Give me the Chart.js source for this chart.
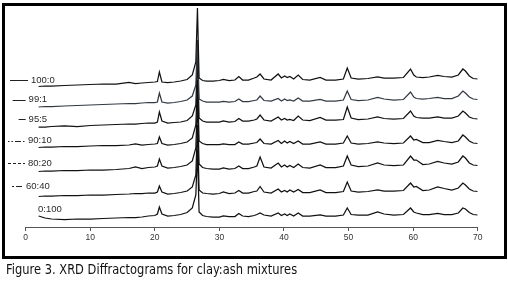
<!DOCTYPE html>
<html>
<head>
<meta charset="utf-8">
<script src="https://cdn.jsdelivr.net/npm/chart.js@4/dist/chart.umd.min.js"></script>
<style>
  html, body { margin: 0; padding: 0; background: #fff; }
  body { width: 508px; height: 282px; position: relative; overflow: hidden; }
  #chart { position: absolute; left: 0; top: 0; }
  #frame {
    position: absolute; left: 2px; top: 3px; width: 505px; height: 256px;
    border: 3px solid #000; box-sizing: border-box; pointer-events: none;
  }
  #caption {
    position: absolute; left: 6px; top: 262px; white-space: nowrap;
    font: 14px "DejaVu Sans", Arial, sans-serif; line-height: 15px; color: #111;
    transform-origin: 0 0;
  }
</style>
</head>
<body>
<canvas id="chart" width="508" height="256"></canvas>
<div id="frame"></div>
<div id="caption">Figure 3. XRD Diffractograms for clay:ash mixtures</div>
<script>
// ─── Data (2θ in degrees, intensity in a.u. with the stacking offset included) ───
const twoTheta = [2, 3, 4, 6, 8, 10, 12, 14, 16, 17, 18, 19, 20, 20.4, 20.7, 21.1, 22, 23, 24, 25,
  25.8, 26.35, 26.6, 26.85, 27.4, 28, 29, 30, 30.6, 31.5, 32.4, 33.0, 33.6, 34.5, 35.4, 35.8, 36.3, 36.9, 38, 39.1,
  39.6, 40.1, 40.5, 40.9, 41.5, 42.2, 42.9, 44, 45.6, 46.5, 48, 49.2, 49.8, 50.4, 51.5, 53, 54.5, 55.5, 57, 58.5,
  59.6, 60.1, 60.5, 61.5, 62.5, 63.8, 64.8, 66, 67.0, 67.7, 68.1, 68.7, 69.3, 70];

const mix100_0 = [140.5, 141, 141, 141.5, 142, 142.5, 143, 143, 144.5, 143.5, 144, 144.5, 145, 145.5, 155, 145, 144.5, 145, 146, 147.5,
  152, 165, 219, 149, 146.5, 146, 146, 146.5, 147.5, 146.5, 147, 150.5, 147, 147, 149, 150, 153, 148, 147, 153,
  149, 151, 149.5, 150.5, 148, 152, 147.5, 147, 149.5, 147, 147, 148, 159, 149, 148, 148.5, 150, 149, 149, 149.5,
  158, 152, 150, 149.5, 150, 151.5, 150.5, 150, 152, 158, 156, 151, 148.5, 148];
const mix99_1 = [120, 120.5, 120.5, 121, 121.5, 122, 122.5, 123, 123.5, 123.5, 124, 124.5, 124.5, 125, 134, 125, 124, 124.5, 125.5, 127,
  131, 142, 187, 128, 126, 125, 125, 125, 125.5, 125, 125.5, 128, 125.5, 125.5, 126.5, 127, 131, 126.5, 126, 128.5,
  126, 128, 126.5, 127, 126, 129, 126, 126, 127.5, 126, 126, 127, 136, 127.5, 126.5, 127, 129.5, 128, 127, 127.5,
  135, 130, 128.5, 128, 128.5, 129.5, 128.5, 128.5, 131, 136, 134, 130, 128, 127.5];
const mix95_5 = [100, 100, 100.5, 101, 100.5, 101.5, 102, 102.5, 103, 103, 103.5, 104, 104, 105, 115, 106, 104, 104.5, 105, 106.5,
  111, 122, 172, 109, 106, 105, 105, 105, 106, 105, 105.5, 108.5, 106, 106, 107, 108, 112, 107, 106, 110,
  107, 108.5, 107, 107.5, 106.5, 111, 107, 106.5, 109.5, 107, 107, 107.5, 120, 109, 107.5, 108, 110, 108.5, 108, 108.5,
  116, 111, 109.5, 109, 109, 110, 109, 109, 111, 116, 114, 110, 108.5, 108];
const mix90_10 = [79.5, 80, 80, 80.5, 80.5, 81, 81.5, 81.5, 82, 83, 82, 82.5, 83, 83.5, 90, 83.5, 82, 82.5, 83.5, 85,
  89, 102, 147, 86, 83.5, 82.5, 82.5, 82.5, 83, 82.5, 82.5, 85, 83, 83, 84, 84.5, 88, 83.5, 83, 86.5,
  83.5, 86, 84, 85.5, 83.5, 86, 83, 83, 85, 83, 83, 84, 91, 84, 83, 83.5, 85, 84, 83.5, 84,
  91, 87, 87.5, 84.5, 84.5, 86.5, 85.5, 84.5, 86, 92, 90, 86, 84, 83.5];
const mix80_20 = [55.5, 56, 56, 56.5, 56.5, 57, 57, 57.5, 58.5, 60, 58.5, 59.5, 60, 61, 68, 61, 59, 59.5, 60.5, 62,
  66, 79, 127, 63, 59.5, 58.5, 58, 58, 59, 58, 58.5, 61, 58.5, 58.5, 60, 61, 70, 60, 59, 64,
  60, 62, 60, 61.5, 59.5, 63, 59.5, 59, 62, 59.5, 59.5, 61, 71, 62, 60.5, 61, 64, 62, 61.5, 62,
  71, 67, 67, 62.5, 63, 65.5, 64, 63, 65, 71, 69, 64, 62, 61.5];
const mix60_40 = [30.5, 31, 31, 31.5, 31.5, 32, 32, 32.5, 33, 33.5, 33.5, 34, 34, 35, 41, 35, 33, 33.5, 34.5, 36,
  40, 52, 102, 37, 34, 33.5, 33, 33.5, 35, 33.5, 34, 36.5, 34, 34, 35.5, 36, 40.5, 35, 34, 38,
  35, 36.5, 35, 37, 35, 37.5, 34.5, 34.5, 37, 34.5, 34.5, 35.5, 45, 36, 35, 35.5, 37, 36, 36, 36.5,
  44, 40, 40.5, 36.5, 37, 40, 38.5, 37, 39, 44, 42, 38, 36, 35.5];
const mix0_100 = [11, 9, 8, 7.5, 8, 8, 8.5, 9, 9.5, 9.5, 10, 11, 11.5, 13, 20, 13, 11, 11.5, 12.5, 14.5,
  19, 32, 77, 15, 11.5, 10.5, 10, 10, 11, 10.5, 10.5, 13.5, 11, 10.5, 11.5, 12.5, 14, 12, 11, 14,
  11.5, 13, 11.5, 13, 11, 14, 11, 11, 12, 11, 11, 12, 19, 12.5, 12, 12, 15, 13, 12, 12.5,
  19, 15, 14, 12.5, 12.5, 13.5, 12.5, 12.5, 14, 19, 18, 14.5, 12.5, 12];

const mixLabels = ['100:0', '99:1', '95:5', '90:10', '80:20', '60:40', '0:100'];
const mixSeries = [mix100_0, mix99_1, mix95_5, mix90_10, mix80_20, mix60_40, mix0_100];
const xTicks = [0, 10, 20, 30, 40, 50, 60, 70];

// ─── Styles for the labels next to each trace ───
const traceColors = ['#111', '#333a44', '#111', '#111', '#111', '#111', '#111'];
const labelStyle = [
  { dx: -7.6, dy: -6.5, sample: 18, dash: [] },
  { dx: -10, dy: -7.5, sample: 13, dash: [] },
  { dx: -10, dy: -8, sample: 7, dash: [] },
  { dx: -10.6, dy: -7, sample: 17, dash: [1.5, 2, 1.5, 2, 6, 2] },
  { dx: -10.6, dy: -8.5, sample: 17, dash: [3, 2] },
  { dx: -12.6, dy: -10.5, sample: 11, dash: [2, 2, 6, 1] },
  { dx: -0.6, dy: -7, sample: 0, dash: [] }
];

const traceLabels = {
  id: 'traceLabels',
  afterDatasetsDraw(chart) {
    const ctx = chart.ctx;
    ctx.save();
    ctx.font = '9.5px "Liberation Sans Narrow", "Liberation Sans", Arial, sans-serif';
    ctx.textBaseline = 'middle';
    ctx.textAlign = 'left';
    chart.data.datasets.forEach((ds, i) => {
      const p = chart.getDatasetMeta(i).data[0];
      const st = labelStyle[i];
      const x = p.x + st.dx;
      const y = p.y + st.dy;
      if (st.sample > 0) {
        ctx.strokeStyle = '#222';
        ctx.lineWidth = 1;
        ctx.setLineDash(st.dash);
        ctx.beginPath();
        ctx.moveTo(x - 3 - st.sample, Math.round(y) + 0.5);
        ctx.lineTo(x - 3, Math.round(y) + 0.5);
        ctx.stroke();
      }
      ctx.fillStyle = '#2a2a2a';
      ctx.fillText(ds.label, x, y);
    });
    ctx.restore();
  }
};

new Chart(document.getElementById('chart'), {
  type: 'line',
  data: {
    datasets: mixSeries.map((vals, i) => ({
      label: mixLabels[i],
      data: vals.map((v, k) => ({ x: twoTheta[k], y: v })),
      borderColor: traceColors[i],
      borderWidth: 1.25,
      pointRadius: 0,
      tension: 0,
      fill: false
    }))
  },
  options: {
    responsive: false,
    animation: false,
    devicePixelRatio: 1,
    layout: { padding: { left: 25.7, right: 30.3, top: 8, bottom: 0 } },
    plugins: { legend: { display: false }, tooltip: { enabled: false } },
    scales: {
      x: {
        type: 'linear', min: 0, max: 70,
        afterBuildTicks: s => { s.ticks = xTicks.map(v => ({ value: v })); },
        afterFit: s => { s.height = 29; },
        border: { display: true, color: '#555', width: 1 },
        grid: { display: true, drawOnChartArea: false, drawTicks: true, tickLength: 4, color: '#555' },
        ticks: { color: '#333', font: { size: 8.5, family: '"Liberation Sans", Arial, sans-serif' }, padding: 2, maxRotation: 0 }
      },
      y: { display: false, min: 0, max: 219 }
    }
  },
  plugins: [traceLabels]
});

// squeeze caption to the width it has in the figure
const cap = document.getElementById('caption');
cap.style.transform = 'scaleX(' + (291 / cap.offsetWidth) + ')';
</script>
</body>
</html>
